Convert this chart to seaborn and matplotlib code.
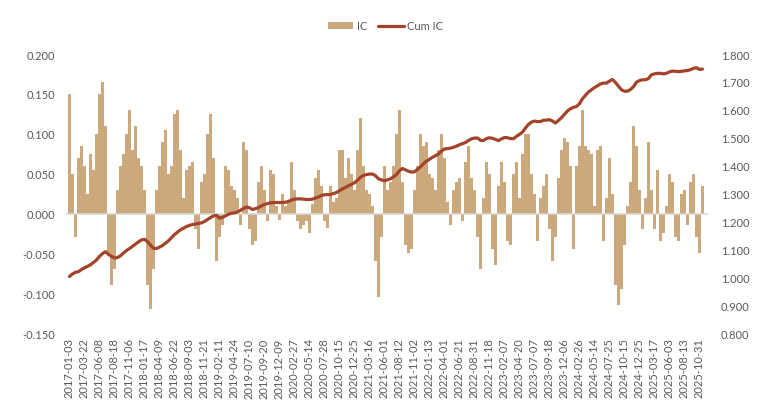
import numpy as np
import pandas as pd
import matplotlib
matplotlib.use('Agg')
import matplotlib.pyplot as plt
import seaborn as sns
from matplotlib.lines import Line2D
from matplotlib.patches import Patch

# Подписи дат (каждые 50 торговых дней)
tick_labels = [
    '2017-01-03', '2017-03-22', '2017-06-08', '2017-08-18', '2017-11-06',
    '2018-01-17', '2018-04-09', '2018-06-22', '2018-09-03', '2018-11-21',
    '2019-02-11', '2019-04-24', '2019-07-10', '2019-09-20', '2019-12-09',
    '2020-02-27', '2020-05-14', '2020-07-28', '2020-10-15', '2020-12-25',
    '2021-03-16', '2021-06-01', '2021-08-12', '2021-11-02', '2022-01-13',
    '2022-04-01', '2022-06-21', '2022-08-31', '2022-11-18', '2023-02-07',
    '2023-04-20', '2023-07-07', '2023-09-18', '2023-12-06', '2024-02-26',
    '2024-05-14', '2024-07-25', '2024-10-15', '2024-12-25', '2025-03-17',
    '2025-06-03', '2025-08-13', '2025-10-31',
]

# IC по 10-дневным интервалам (оценка по картинке)
ic_values = [
    0.150, 0.050, -0.030, 0.070, 0.085, 0.060, 0.025, 0.075, 0.055, 0.100,
    0.150, 0.165, 0.110, -0.050, -0.090, -0.070, 0.030, 0.060, 0.075, 0.100,
    0.130, 0.080, 0.110, 0.070, 0.060, 0.030, -0.090, -0.120, -0.070, 0.030,
    0.060, 0.090, 0.105, 0.050, 0.060, 0.125, 0.130, 0.080, 0.020, 0.055,
    0.060, 0.065, -0.020, -0.045, 0.040, 0.050, 0.100, 0.125, 0.070, -0.060,
    -0.030, -0.015, 0.060, 0.055, 0.035, 0.030, 0.020, -0.015, 0.090, 0.080,
    -0.020, -0.040, -0.035, 0.040, 0.060, 0.030, -0.010, 0.055, 0.050, 0.010,
    -0.008, 0.025, 0.010, 0.015, 0.065, 0.030, -0.010, -0.020, -0.015, -0.010,
    -0.025, 0.012, 0.045, 0.055, 0.035, -0.010, -0.018, 0.035, 0.015, 0.020,
    0.080, 0.080, 0.045, 0.070, 0.050, 0.030, 0.080, 0.120, 0.060, 0.030,
    0.025, 0.010, -0.060, -0.105, -0.030, 0.060, 0.030, 0.040, 0.060, 0.100,
    0.130, 0.040, -0.040, -0.050, -0.045, 0.030, 0.060, 0.100, 0.085, 0.090,
    0.050, 0.045, 0.030, 0.080, 0.100, 0.070, 0.015, -0.015, 0.030, 0.040,
    0.045, -0.010, 0.065, 0.085, 0.045, 0.030, -0.030, -0.070, 0.020, 0.065,
    0.050, -0.045, -0.065, 0.035, 0.065, 0.040, -0.035, -0.040, 0.050, 0.065,
    0.020, 0.075, 0.100, 0.100, 0.050, 0.025, -0.035, 0.020, 0.035, 0.050,
    -0.020, -0.060, -0.030, 0.045, 0.080, 0.095, 0.090, 0.060, -0.045, 0.060,
    0.085, 0.130, 0.085, 0.080, 0.075, 0.010, 0.080, 0.085, -0.035, 0.020,
    0.070, 0.025, -0.090, -0.115, -0.095, -0.040, 0.010, 0.040, 0.110, 0.085,
    0.030, -0.020, 0.020, 0.090, 0.030, -0.020, 0.055, -0.035, -0.025, 0.010,
    0.050, 0.040, -0.030, -0.035, 0.025, 0.030, -0.015, 0.040, 0.050, -0.030,
    -0.050, 0.035,
]

# Накопленный IC (правая ось)
cum_ic_values = [
    1.003, 1.012, 1.018, 1.020, 1.028, 1.034, 1.039, 1.045, 1.053, 1.062,
    1.075, 1.085, 1.092, 1.082, 1.075, 1.069, 1.071, 1.077, 1.087, 1.096,
    1.103, 1.111, 1.119, 1.127, 1.134, 1.136, 1.128, 1.115, 1.104, 1.103,
    1.108, 1.114, 1.122, 1.131, 1.142, 1.153, 1.162, 1.170, 1.176, 1.182,
    1.186, 1.189, 1.191, 1.193, 1.195, 1.200, 1.207, 1.214, 1.220, 1.222,
    1.212, 1.215, 1.220, 1.226, 1.229, 1.231, 1.234, 1.240, 1.247, 1.252,
    1.249, 1.243, 1.246, 1.250, 1.256, 1.261, 1.264, 1.267, 1.268, 1.268,
    1.268, 1.268, 1.269, 1.272, 1.277, 1.280, 1.281, 1.281, 1.280, 1.279,
    1.279, 1.280, 1.284, 1.288, 1.293, 1.296, 1.296, 1.297, 1.300, 1.304,
    1.310, 1.317, 1.322, 1.328, 1.333, 1.339, 1.348, 1.358, 1.365, 1.368,
    1.370, 1.370, 1.364, 1.353, 1.349, 1.346, 1.349, 1.353, 1.360, 1.368,
    1.382, 1.390, 1.385, 1.380, 1.377, 1.378, 1.387, 1.396, 1.407, 1.416,
    1.423, 1.430, 1.436, 1.442, 1.452, 1.460, 1.461, 1.463, 1.466, 1.470,
    1.475, 1.479, 1.483, 1.490, 1.496, 1.499, 1.499, 1.491, 1.490, 1.497,
    1.500, 1.498, 1.494, 1.490, 1.496, 1.501, 1.500, 1.497, 1.497, 1.505,
    1.512, 1.520, 1.535, 1.548, 1.556, 1.560, 1.558, 1.558, 1.563, 1.563,
    1.565, 1.560, 1.553, 1.562, 1.572, 1.584, 1.596, 1.604, 1.609, 1.612,
    1.622, 1.640, 1.652, 1.664, 1.672, 1.680, 1.686, 1.693, 1.696, 1.696,
    1.703, 1.709, 1.698, 1.685, 1.672, 1.667, 1.667, 1.673, 1.683, 1.699,
    1.705, 1.708, 1.708, 1.712, 1.726, 1.729, 1.731, 1.731, 1.729, 1.731,
    1.736, 1.739, 1.738, 1.737, 1.738, 1.740, 1.741, 1.744, 1.749, 1.751,
    1.745, 1.746,
]

bar_color = '#CBA97C'
line_color = '#A3432A'
text_color = '#595959'

sns.set_style('white')
plt.rcParams['font.family'] = ['Lato', 'DejaVu Sans']

df = pd.DataFrame({'bin': np.arange(len(ic_values)), 'IC': ic_values, 'CumIC': cum_ic_values})

fig = plt.figure(figsize=(7.59, 4.14), dpi=100)
ax = fig.add_axes([0.0876, 0.193, 0.8458, 0.674])

sns.barplot(data=df, x='bin', y='IC', color=bar_color, saturation=1,
            width=0.75, linewidth=0, ax=ax)
ax.axhline(0, color='#D9D9D9', linewidth=1.2, zorder=1)

ax2 = ax.twinx()
sns.lineplot(data=df, x='bin', y='CumIC', color=line_color, linewidth=2.3, ax=ax2)

ax.set_ylim(-0.15, 0.2)
ax.set_yticks(np.arange(-0.15, 0.2001, 0.05))
ax.set_yticklabels([f'{v:.3f}' for v in np.arange(-0.15, 0.2001, 0.05)])
ax2.set_ylim(0.8, 1.8)
ax2.set_yticks(np.arange(0.8, 1.8001, 0.1))
ax2.set_yticklabels([f'{v:.3f}' for v in np.arange(0.8, 1.8001, 0.1)])

ax.set_xlim(-1, 213)
ax.set_xticks(np.arange(len(tick_labels)) * 5)
ax.set_xticklabels(tick_labels, rotation=90)

for a in (ax, ax2):
    for s in a.spines.values():
        s.set_visible(False)
    a.tick_params(length=0, labelsize=8, colors=text_color)
    a.set_xlabel('')
    a.set_ylabel('')
ax.tick_params(axis='y', pad=8)
ax2.tick_params(axis='y', pad=9)
ax.tick_params(axis='x', pad=3)

handles = [Patch(facecolor=bar_color, edgecolor='none', label='IC'),
           Line2D([0], [0], color=line_color, linewidth=2.3, label='Cum IC')]
fig.legend(handles=handles, loc='center', bbox_to_anchor=(0.508, 0.935), ncol=2,
           frameon=False, fontsize=8, labelcolor=text_color,
           handlelength=2.3, handletextpad=0.3, columnspacing=1.0)

fig.savefig('out.png', dpi=100)
